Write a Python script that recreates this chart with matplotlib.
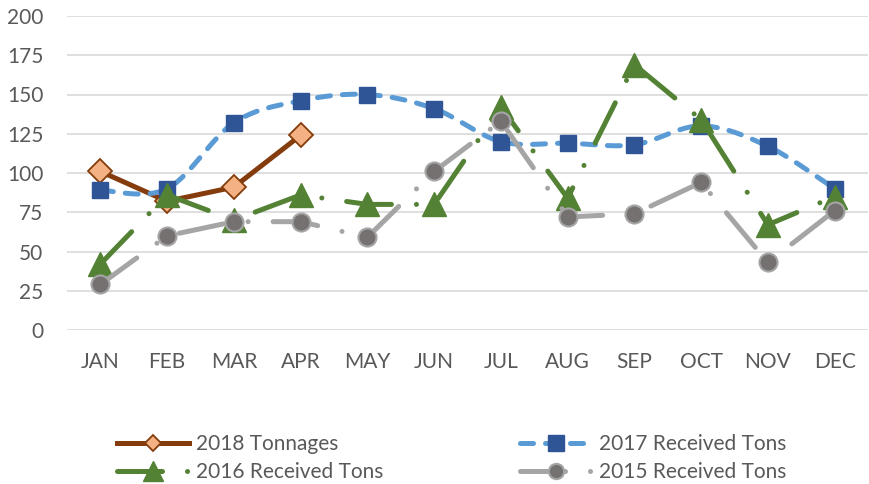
import matplotlib
matplotlib.use('Agg')
import matplotlib.pyplot as plt
from matplotlib.lines import Line2D
import numpy as np

plt.rcParams['font.family'] = ['Lato', 'DejaVu Sans']

##! Data
months    = ['JAN', 'FEB', 'MAR', 'APR', 'MAY', 'JUN',
             'JUL', 'AUG', 'SEP', 'OCT', 'NOV', 'DEC']
tons_2018 = [101, 82, 91, 124]
tons_2017 = [89, 90, 132, 146, 150, 141, 120, 119, 118, 130, 117, 90]
tons_2016 = [42, 86, 70, 86, 80, 80, 142, 84, 169, 134, 67, 85]
tons_2015 = [29, 60, 69, 69, 59, 101, 133, 72, 74, 94, 43, 76]
labels    = ['2018 Tonnages', '2017 Received Tons',
             '2016 Received Tons', '2015 Received Tons']


def smooth(xs, ys, n=24):
    """Bezier smoothing through the points (like a 'smoothed line' chart)."""
    pts = np.column_stack([xs, ys]).astype(float)
    P = np.vstack([pts[0], pts, pts[-1]])
    t = np.linspace(0, 1, n, endpoint=False)[:, None]
    out = []
    for i in range(1, len(P) - 2):
        p0, p1, p2, p3 = P[i-1], P[i], P[i+1], P[i+2]
        c1 = p1 + (p2 - p0) / 6.
        c2 = p2 - (p3 - p1) / 6.
        out.append((1-t)**3*p1 + 3*(1-t)**2*t*c1 + 3*(1-t)*t**2*c2 + t**3*p2)
    out.append(pts[-1:])
    out = np.vstack(out)
    return out[:, 0], out[:, 1]


#-- styles
brown, peach = '#843C0C', '#F4B183'
lblue, dblue = '#5B9BD5', '#2F5597'
green = '#548235'
lgray, dgray = '#A5A5A5', '#767171'
lw = 3.6
dash_17 = (0, (2.6, 2.4))
dashdot = (0, (9, 5, 0.01, 5))
txtcol = '#595959'

fig = plt.figure(figsize=(8.69, 4.84), dpi=100)
ax = fig.add_axes([67/869, 1-330/484, (868-67)/869, (330-16)/484])

x = np.arange(len(months))

#-- 2018
ax.plot(x[:len(tons_2018)], tons_2018, color=brown, lw=lw, solid_capstyle='round',
        marker='D', ms=12, mfc=peach, mec=brown, mew=1.3, zorder=3)

#-- 2017 (smoothed)
sx, sy = smooth(x, tons_2017)
ax.plot(sx, sy, color=lblue, lw=lw, ls=dash_17, dash_capstyle='round', zorder=4)
ax.plot(x, tons_2017, ls='none', marker='s', ms=11, mfc=dblue, mec=dblue, zorder=4)

#-- 2016
ax.plot(x, tons_2016, color=green, lw=lw, ls=dashdot, dash_capstyle='round',
        marker='^', ms=17, mfc=green, mec=green, zorder=5)

#-- 2015
ax.plot(x, tons_2015, color=lgray, lw=lw, ls=dashdot, dash_capstyle='round',
        marker='o', ms=13, mfc=dgray, mec=lgray, mew=1.5, zorder=6)

ax.set_xlim(-0.5, len(months) - 0.5)
ax.set_ylim(0, 200)
ax.set_xticks(x)
ax.set_xticklabels(months)
ax.set_yticks(np.arange(0, 201, 25))
ax.grid(axis='y', color='#D9D9D9', lw=1.2)
ax.set_axisbelow(True)
for s in ax.spines.values():
    s.set_visible(False)
ax.tick_params(axis='x', length=0, pad=16, labelsize=15, labelcolor=txtcol)
ax.tick_params(axis='y', length=0, pad=17, labelsize=15, labelcolor=txtcol)

#-- legend, one entry at a time so each sits where it does in the reference
handles = [
    Line2D([], [], color=brown, lw=lw, marker='D', ms=8, mfc=peach, mec=brown, mew=1.3),
    Line2D([], [], color=lblue, lw=lw, ls=dash_17, dash_capstyle='round',
           marker='s', ms=11, mfc=dblue, mec=dblue),
    Line2D([], [], color=green, lw=lw, ls=dashdot, dash_capstyle='round',
           marker='^', ms=14, mfc=green, mec=green),
    Line2D([], [], color=lgray, lw=lw, ls=dashdot, dash_capstyle='round',
           marker='o', ms=11, mfc=dgray, mec=lgray, mew=1.5),
]
spots = [(117, 444), (520, 444), (117, 472), (520, 472)]
for h, lab, (px, py) in zip(handles, labels, spots):
    fig.legend(handles=[h], labels=[lab], loc='center left',
               bbox_to_anchor=(px/869, 1-py/484), frameon=False,
               borderpad=0, borderaxespad=0, handlelength=3.45,
               handletextpad=0.35, fontsize=15, labelcolor=txtcol)

fig.savefig('out.png', dpi=100)
